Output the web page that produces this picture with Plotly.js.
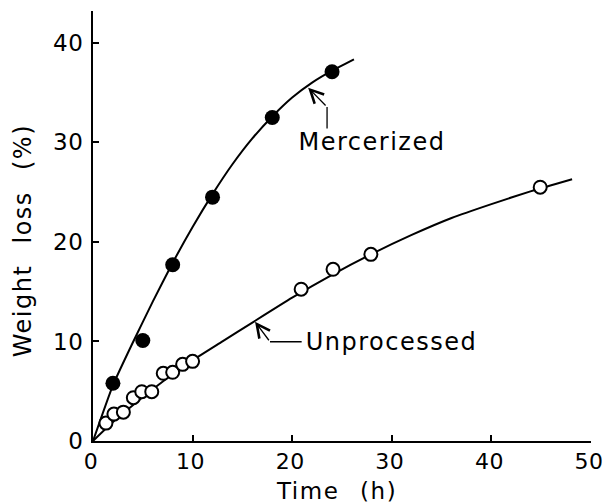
<!DOCTYPE html>
<html>
<head>
<meta charset="utf-8">
<script src="https://cdn.plot.ly/plotly-3.0.1.min.js"></script>
<style>
  html, body { margin: 0; padding: 0; background: #fff; }
  #chart { width: 605px; height: 504px; }
  #chart svg .annotation-text { letter-spacing: 1.5px; word-spacing: 12px; }
  #chart svg .xtick text, #chart svg .ytick text { letter-spacing: 0.5px; }
</style>
</head>
<body>
<div id="chart"></div>
<script>
// Measured points
const mercTime = [2, 5, 8, 12, 18, 24];
const mercLoss = [5.8, 10.1, 17.7, 24.5, 32.5, 37.1];
const unprocTime = [1.3, 2.1, 3.05, 4.05, 4.9, 5.9, 7.05, 8.0, 9.0, 10.0, 20.9, 24.1, 27.9, 44.9];
const unprocLoss = [1.8, 2.7, 2.9, 4.35, 4.95, 4.95, 6.8, 6.9, 7.7, 8.0, 15.25, 17.25, 18.75, 25.5];

// Fitted curves
const mercCurveTime = [0, 2, 4, 6, 8, 10, 12, 14, 16, 18, 20, 22, 24, 26.2];
const mercCurveLoss = [0, 5.6, 9.9, 14.0, 17.9, 21.5, 24.8, 27.8, 30.4, 32.6, 34.5, 36.0, 37.2, 38.35];
const unprocCurveTime = [0, 2, 4, 6, 8, 10, 13, 16, 20, 24, 28, 32, 36, 40, 44, 48.1];
const unprocCurveLoss = [0, 1.9, 3.6, 5.2, 6.7, 8.1, 10.0, 11.9, 14.4, 16.7, 18.8, 20.7, 22.4, 23.8, 25.1, 26.3];

// Tick labels
const xTicks = [0, 10, 20, 30, 40, 50];
const yTicks = [0, 10, 20, 30, 40];

// Labels with leader lines: [tip, corner, end] in data units
const seriesNames = ['Mercerized', 'Unprocessed'];
const mercLeaderX = [21.6, 23.5, 23.5];
const mercLeaderY = [35.5, 33.56, 31.4];
const unprocLeaderX = [16.27, 17.77, 20.95];
const unprocLeaderY = [11.98, 9.97, 9.97];
const labelX = [21.18, 21.96];
const labelY = [30.0, 9.9];

const FONT = 'DejaVu Sans, sans-serif';

const traces = [
  { x: mercCurveTime, y: mercCurveLoss, mode: 'lines', line: {color: '#000', width: 2, shape: 'spline', smoothing: 0.5}, hoverinfo: 'skip', showlegend: false },
  { x: unprocCurveTime, y: unprocCurveLoss, mode: 'lines', line: {color: '#000', width: 2, shape: 'spline', smoothing: 0.5}, hoverinfo: 'skip', showlegend: false },
  { x: mercTime, y: mercLoss, mode: 'markers', name: seriesNames[0], marker: {symbol: 'circle', size: 15, color: '#000', line: {color: '#000', width: 0}}, showlegend: false },
  { x: unprocTime, y: unprocLoss, mode: 'markers', name: seriesNames[1], marker: {symbol: 'circle', size: 13, color: '#fff', line: {color: '#000', width: 2}}, showlegend: false }
];

function leaderShape(xs, ys) {
  return { type: 'line', xref: 'x', yref: 'y', x0: xs[1], y0: ys[1], x1: xs[2], y1: ys[2], line: {color: '#000', width: 1.3} };
}
function arrowAnn(xs, ys) {
  return { xref: 'x', yref: 'y', axref: 'x', ayref: 'y', x: xs[0], y: ys[0], ax: xs[1], ay: ys[1], text: '', showarrow: true, arrowhead: 5, arrowwidth: 1.3, arrowsize: 2, arrowcolor: '#000', standoff: 0 };
}

const layout = {
  width: 605, height: 504,
  margin: {l: 93, r: 14, t: 11, b: 63},
  paper_bgcolor: '#fff', plot_bgcolor: '#fff',
  font: {family: FONT, size: 24, color: '#000'},
  showlegend: false,
  xaxis: {
    range: [0, 50], tickvals: xTicks, ticktext: xTicks.map(String),
    ticks: 'inside', ticklen: 6, tickwidth: 2, tickcolor: '#000',
    showline: true, linecolor: '#000', linewidth: 2, showgrid: false, zeroline: false,
    ticklabelstandoff: 0, ticklabelshift: -2, ticklabeloverflow: 'allow', tickfont: {family: FONT, size: 22, color: '#000'}
  },
  yaxis: {
    range: [0, 43.2], tickvals: yTicks, ticktext: yTicks.map(String),
    ticks: 'inside', ticklen: 6, tickwidth: 2, tickcolor: '#000',
    showline: true, linecolor: '#000', linewidth: 2, showgrid: false, zeroline: false,
    ticklabelstandoff: 3, ticklabeloverflow: 'allow', tickfont: {family: FONT, size: 23, color: '#000'}
  },
  shapes: [leaderShape(mercLeaderX, mercLeaderY), leaderShape(unprocLeaderX, unprocLeaderY)],
  annotations: [
    arrowAnn(mercLeaderX, mercLeaderY),
    arrowAnn(unprocLeaderX, unprocLeaderY),
    { xref: 'x', yref: 'y', x: labelX[0], y: labelY[0], text: seriesNames[0], showarrow: false, xanchor: 'left', yanchor: 'middle', font: {family: FONT, size: 24, color: '#000'} },
    { xref: 'x', yref: 'y', x: labelX[1], y: labelY[1], text: seriesNames[1], showarrow: false, xanchor: 'left', yanchor: 'middle', font: {family: FONT, size: 24, color: '#000'} },
    { xref: 'paper', yref: 'paper', x: 0.488, y: -0.116, text: 'Time (h)', showarrow: false, xanchor: 'center', yanchor: 'middle', font: {family: FONT, size: 23, color: '#000'} },
    { xref: 'paper', yref: 'paper', x: -0.1406, y: 0.4674, text: 'Weight loss (%)', textangle: -90, showarrow: false, xanchor: 'center', yanchor: 'middle', font: {family: FONT, size: 24, color: '#000'} }
  ]
};

Plotly.newPlot('chart', traces, layout, {staticPlot: true, displayModeBar: false});
</script>
</body>
</html>
